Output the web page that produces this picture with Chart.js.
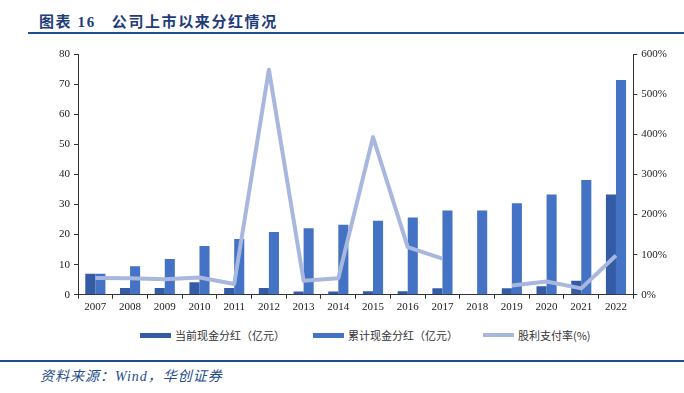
<!DOCTYPE html>
<html>
<head>
<meta charset="utf-8">
<script src="https://cdn.jsdelivr.net/npm/chart.js@4"></script>
<style>
  body { margin: 0; width: 684px; height: 393px; background: #fff; position: relative; overflow: hidden; }
  .title { position: absolute; left: 39px; top: 10px; font: bold 15px "Liberation Serif", "Noto Sans CJK SC"; color: #1F3D7A; letter-spacing: 1.6px; white-space: nowrap; }
  .rule1 { position: absolute; left: 28px; right: 0; top: 32px; height: 2px; background: #1F4E8C; }
  .rule2 { position: absolute; left: 0; right: 0; top: 360px; height: 2px; background: #1F4E8C; }
  .source { position: absolute; left: 40px; top: 365px; font: italic 14px "Liberation Serif", "Noto Sans CJK SC"; color: #1F4E8C; letter-spacing: 1px; white-space: nowrap; }
  #wrap { position: absolute; left: 0; top: 40px; width: 684px; height: 276px; }
  .lg { position: absolute; top: 327px; font: 11px "Noto Sans CJK SC"; color: #333; white-space: nowrap; display: flex; align-items: center; height: 16px; }
  .lg i { display: inline-block; width: 31px; margin-right: 4px; }
</style>
</head>
<body>
<div class="title">图表 16&nbsp;&nbsp;&nbsp;公司上市以来分红情况</div>
<div class="rule1"></div>
<div id="wrap"><canvas id="divChart"></canvas></div>
<div id="legend"></div>
<div class="rule2"></div>
<div class="source">资料来源：Wind，华创证券</div>
<script>
// values
const years = ['2007','2008','2009','2010','2011','2012','2013','2014','2015','2016','2017','2018','2019','2020','2021','2022'];
const currentDiv = [7.0, 2.3, 2.3, 4.2, 2.3, 2.3, 1.1, 1.1, 1.2, 1.2, 2.2, 0, 2.2, 2.8, 4.7, 33.3];
const totalDiv = [7.0, 9.5, 11.9, 16.2, 18.5, 20.9, 22.1, 23.3, 24.6, 25.7, 28.0, 28.0, 30.4, 33.3, 38.1, 71.4];
const payoutRatio = [42, 41, 39, 43, 27, 561, 35, 41, 393, 119, 90, null, 23, 33, 16, 98];

const serif = '"Liberation Serif", "Noto Sans CJK SC"';

// html legend, built from the datasets
function buildLegend(chart) {
  const lefts = [140, 313, 483];
  const box = document.getElementById('legend');
  chart.data.datasets.forEach((ds, i) => {
    const item = document.createElement('div');
    item.className = 'lg';
    item.style.left = lefts[i] + 'px';
    const sw = document.createElement('i');
    sw.style.height = ds.type === 'line' ? '4px' : '5px';
    sw.style.background = ds.type === 'line' ? ds.borderColor : ds.backgroundColor;
    item.appendChild(sw);
    item.appendChild(document.createTextNode(ds.label));
    box.appendChild(item);
  });
}

window.onload = function () {
  const ctx = document.getElementById('divChart').getContext('2d');
  const chart = new Chart(ctx, {
    type: 'bar',
    data: {
      labels: years,
      datasets: [
        {
          label: '当前现金分红（亿元）',
          data: currentDiv,
          backgroundColor: '#345CA6',
          yAxisID: 'y',
          order: 2,
          barPercentage: 1,
          categoryPercentage: 0.58
        },
        {
          label: '累计现金分红（亿元）',
          data: totalDiv,
          backgroundColor: '#4472C4',
          yAxisID: 'y',
          order: 2,
          barPercentage: 1,
          categoryPercentage: 0.58
        },
        {
          type: 'line',
          label: '股利支付率(%)',
          data: payoutRatio,
          borderColor: '#A8B7DE',
          backgroundColor: '#A8B7DE',
          borderWidth: 4,
          borderJoinStyle: 'round',
          pointRadius: 0,
          tension: 0,
          spanGaps: false,
          yAxisID: 'y1',
          order: 1
        }
      ]
    },
    options: {
      responsive: true,
      maintainAspectRatio: false,
      animation: false,
      layout: { padding: { left: 55, right: 13, top: 14, bottom: 0 } },
      plugins: {
        tooltip: { enabled: false },
        legend: { display: false }
      },
      scales: {
        x: {
          border: { color: '#333' },
          grid: { drawOnChartArea: false, drawTicks: true, tickLength: 4, color: '#333' },
          ticks: { color: '#222', font: { family: serif, size: 11 }, maxRotation: 0, padding: 2 }
        },
        y: {
          position: 'left',
          min: 0,
          max: 80,
          border: { color: '#333' },
          grid: { drawOnChartArea: false, drawTicks: true, tickLength: 4, color: '#333' },
          ticks: { stepSize: 10, color: '#222', font: { family: serif, size: 11 }, padding: 4 }
        },
        y1: {
          position: 'right',
          min: 0,
          max: 600,
          border: { color: '#333' },
          grid: { drawOnChartArea: false, drawTicks: true, tickLength: 4, color: '#333' },
          ticks: { stepSize: 100, color: '#222', font: { family: serif, size: 11 }, padding: 4,
                   callback: v => v + '%' }
        }
      }
    }
  });
  buildLegend(chart);
};
</script>
</body>
</html>
